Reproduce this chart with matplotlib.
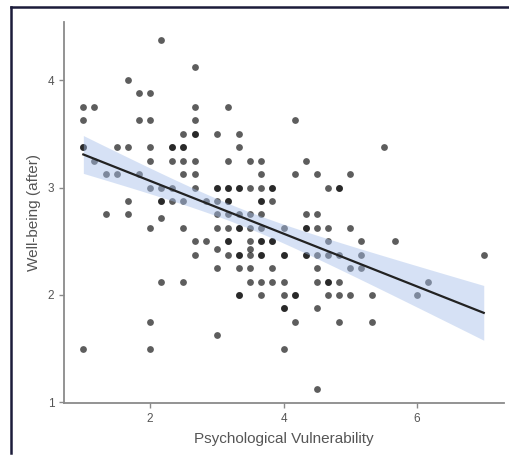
import numpy as np
import matplotlib.pyplot as plt
from matplotlib.lines import Line2D

plt.rcParams['font.family'] = ['Liberation Sans', 'DejaVu Sans']

# vulnerability scores, one list per column of the scale grid
x_groups = [1.0, 1.167, 1.333, 1.5, 1.667, 1.833, 2.0, 2.167, 2.333, 2.5,
            2.667, 2.833, 3.0, 3.167, 3.333, 3.5, 3.667, 3.833, 4.0, 4.167,
            4.333, 4.5, 4.667, 4.833, 5.0, 5.167, 5.333, 5.5, 5.667, 6.0,
            6.167, 7.0]
# well-being scores per column (repeated values = overlapping respondents)
y_groups = [
    [3.75, 3.625, 3.375, 3.375, 1.5],
    [3.75, 3.25],
    [3.125, 2.75],
    [3.375, 3.125],
    [4.0, 3.375, 2.875, 2.75],
    [3.875, 3.625, 3.125],
    [3.875, 3.625, 3.375, 3.25, 3.0, 2.625, 1.75, 1.5],
    [4.375, 3.0, 2.875, 2.875, 2.715, 2.125],
    [3.375, 3.375, 3.25, 3.0, 2.875],
    [3.5, 3.375, 3.375, 3.25, 3.125, 2.875, 2.625, 2.125],
    [4.125, 3.75, 3.625, 3.5, 3.5, 3.25, 3.125, 3.0, 2.5, 2.375],
    [2.875, 2.5],
    [3.5, 3.0, 3.0, 2.875, 2.75, 2.625, 2.43, 2.25, 1.625],
    [3.75, 3.25, 3.0, 3.0, 2.875, 2.875, 2.75, 2.625, 2.5, 2.5, 2.375],
    [3.5, 3.375, 3.0, 3.0, 2.75, 2.625, 2.625, 2.375, 2.375, 2.25, 2.0, 2.0],
    [3.25, 3.0, 2.75, 2.625, 2.5, 2.43, 2.375, 2.25, 2.125],
    [3.25, 3.125, 3.0, 2.875, 2.875, 2.75, 2.625, 2.5, 2.5, 2.375, 2.375,
     2.125, 2.0],
    [3.0, 3.0, 2.875, 2.5, 2.5, 2.25, 2.125],
    [2.625, 2.375, 2.375, 2.125, 2.0, 1.875, 1.875, 1.5],
    [3.625, 3.125, 2.0, 2.0, 1.75],
    [3.25, 2.75, 2.625, 2.625, 2.375, 2.375],
    [3.125, 2.75, 2.625, 2.375, 2.25, 2.125, 1.875, 1.125],
    [3.0, 2.625, 2.5, 2.375, 2.125, 2.125, 2.0],
    [3.0, 3.0, 2.375, 2.125, 2.0, 1.75],
    [3.125, 2.625, 2.25, 2.0],
    [2.5, 2.375, 2.25],
    [2.0, 1.75],
    [3.375],
    [2.5],
    [2.0],
    [2.125],
    [2.375],
]

x = np.array([xv for xv, ys in zip(x_groups, y_groups) for _ in ys])
y = np.array([yv for ys in y_groups for yv in ys])

# linear fit with 95% confidence band
n = len(x)
b1, b0 = np.polyfit(x, y, 1)
xs = np.linspace(x.min(), x.max(), 100)
fit = b0 + b1 * xs
resid = y - (b0 + b1 * x)
s = np.sqrt(np.sum(resid ** 2) / (n - 2))
se = s * np.sqrt(1 / n + (xs - x.mean()) ** 2 / np.sum((x - x.mean()) ** 2))
t = 1.97
lo, hi = fit - t * se, fit + t * se

fig = plt.figure(figsize=(5.09, 4.59), dpi=100)
ax = fig.add_axes([0.1257, 0.122, 0.864, 0.830])

ax.scatter(x, y, s=24, color='#111111', alpha=0.68, linewidths=0, zorder=2)
ax.fill_between(xs, lo, hi, color='#a5bee9', alpha=0.45, linewidth=0, zorder=3)
ax.plot(xs, fit, color='#222222', linewidth=1.6, zorder=4)

ax.set_xlim(0.71, 7.30)
ax.set_ylim(0.995, 4.54)
ax.set_xticks([2, 4, 6])
ax.set_yticks([1, 2, 3, 4])

for side in ['top', 'right']:
    ax.spines[side].set_visible(False)
for side in ['left', 'bottom']:
    ax.spines[side].set_color('#8a8a8a')
    ax.spines[side].set_linewidth(1.3)
ax.tick_params(colors='#8a8a8a', labelcolor='#555555', labelsize=8.5,
               length=3.5, width=1)

ax.set_xlabel('Psychological Vulnerability', fontsize=11, color='#555555',
              labelpad=5)
ax.set_ylabel('Well-being (after)', fontsize=11, color='#555555', labelpad=5)

# outer frame
fig.add_artist(Line2D([11 / 509, 11 / 509], [1 - 453 / 459, 1 - 7 / 459],
                      color='#1c1c3a', linewidth=1.8, transform=fig.transFigure))
fig.add_artist(Line2D([11 / 509, 1.0], [1 - 7 / 459, 1 - 7 / 459],
                      color='#1c1c3a', linewidth=1.8, transform=fig.transFigure))

fig.savefig('out.png', dpi=100)
